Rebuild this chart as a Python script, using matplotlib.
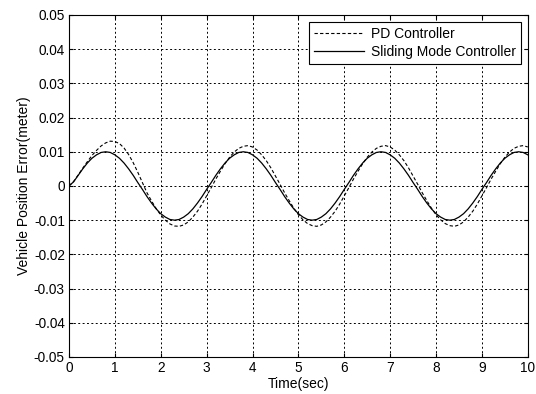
import matplotlib
matplotlib.use("Agg")
import matplotlib.pyplot as plt
import numpy as np

plt.rcParams['font.family'] = ['Liberation Sans', 'DejaVu Sans']

# time axis (sec), 0.1 s steps
t = np.round(np.arange(0, 101) * 0.1, 1)

# sliding mode controller
smc = [0.0000, 0.0012, 0.0031, 0.0050, 0.0067, 0.0081, 0.0091, 0.0098, 0.0100, 0.0098,
       0.0091, 0.0081, 0.0067, 0.0050, 0.0031, 0.0010, -0.0010, -0.0031, -0.0050, -0.0067,
       -0.0081, -0.0091, -0.0098, -0.0100, -0.0098, -0.0091, -0.0081, -0.0067, -0.0050, -0.0031,
       -0.0010, 0.0010, 0.0031, 0.0050, 0.0067, 0.0081, 0.0091, 0.0098, 0.0100, 0.0098,
       0.0091, 0.0081, 0.0067, 0.0050, 0.0031, 0.0010, -0.0010, -0.0031, -0.0050, -0.0067,
       -0.0081, -0.0091, -0.0098, -0.0100, -0.0098, -0.0091, -0.0081, -0.0067, -0.0050, -0.0031,
       -0.0010, 0.0010, 0.0031, 0.0050, 0.0067, 0.0081, 0.0091, 0.0098, 0.0100, 0.0098,
       0.0091, 0.0081, 0.0067, 0.0050, 0.0031, 0.0010, -0.0010, -0.0031, -0.0050, -0.0067,
       -0.0081, -0.0091, -0.0098, -0.0100, -0.0098, -0.0091, -0.0081, -0.0067, -0.0050, -0.0031,
       -0.0010, 0.0010, 0.0031, 0.0050, 0.0067, 0.0081, 0.0091, 0.0098, 0.0100, 0.0098,
       0.0091]

# PD controller
pd_ = [0.0000, 0.0013, 0.0032, 0.0052, 0.0071, 0.0089, 0.0104, 0.0117, 0.0126, 0.0131,
       0.0130, 0.0124, 0.0111, 0.0092, 0.0068, 0.0040, 0.0010, -0.0020, -0.0044, -0.0066,
       -0.0085, -0.0100, -0.0111, -0.0117, -0.0118, -0.0114, -0.0105, -0.0091, -0.0074, -0.0053,
       -0.0029, -0.0005, 0.0020, 0.0043, 0.0065, 0.0084, 0.0099, 0.0110, 0.0116, 0.0118,
       0.0114, 0.0105, 0.0091, 0.0074, 0.0053, 0.0029, 0.0005, -0.0020, -0.0043, -0.0065,
       -0.0084, -0.0099, -0.0110, -0.0116, -0.0118, -0.0114, -0.0105, -0.0091, -0.0074, -0.0053,
       -0.0029, -0.0005, 0.0020, 0.0043, 0.0065, 0.0084, 0.0099, 0.0110, 0.0116, 0.0118,
       0.0114, 0.0105, 0.0091, 0.0074, 0.0053, 0.0029, 0.0005, -0.0020, -0.0043, -0.0065,
       -0.0084, -0.0099, -0.0110, -0.0116, -0.0118, -0.0114, -0.0105, -0.0091, -0.0074, -0.0053,
       -0.0029, -0.0005, 0.0020, 0.0043, 0.0065, 0.0084, 0.0099, 0.0110, 0.0116, 0.0118,
       0.0114]

xticks = list(range(0, 11))
yticks = [-0.05, -0.04, -0.03, -0.02, -0.01, 0, 0.01, 0.02, 0.03, 0.04, 0.05]
ylabels = ['-0.05', '-0.04', '-0.03', '-0.02', '-0.01', '0', '0.01', '0.02', '0.03', '0.04', '0.05']

fig = plt.figure(figsize=(5.36, 3.94), dpi=100)
ax = fig.add_axes([0.1287, 0.094, 0.856, 0.868])

ax.plot(t, pd_, color='black', lw=0.8, linestyle=(0, (3, 2)), label='PD Controller')
ax.plot(t, smc, color='black', lw=0.9, label='Sliding Mode Controller')

ax.set_xlim(0, 10)
ax.set_ylim(-0.05, 0.05)
ax.set_xticks(xticks)
ax.set_yticks(yticks)
ax.set_yticklabels(ylabels)
ax.tick_params(direction='in', top=True, right=True, labelsize=9.8, length=3, pad=3)
ax.grid(True, color='black', linestyle=(0, (2, 2.5)), lw=0.7)
for s in ax.spines.values():
    s.set_linewidth(0.8)

ax.set_xlabel('Time(sec)', fontsize=10, labelpad=1)
ax.set_ylabel('Vehicle Position Error(meter)', fontsize=10, labelpad=2)

leg = ax.legend(loc='upper right', fontsize=10, fancybox=False, framealpha=1,
                edgecolor='black', borderaxespad=0.5, handlelength=3.6,
                borderpad=0.35, labelspacing=0.3, handletextpad=0.5)
leg.get_frame().set_linewidth(0.8)

fig.savefig('out.png', dpi=100)
